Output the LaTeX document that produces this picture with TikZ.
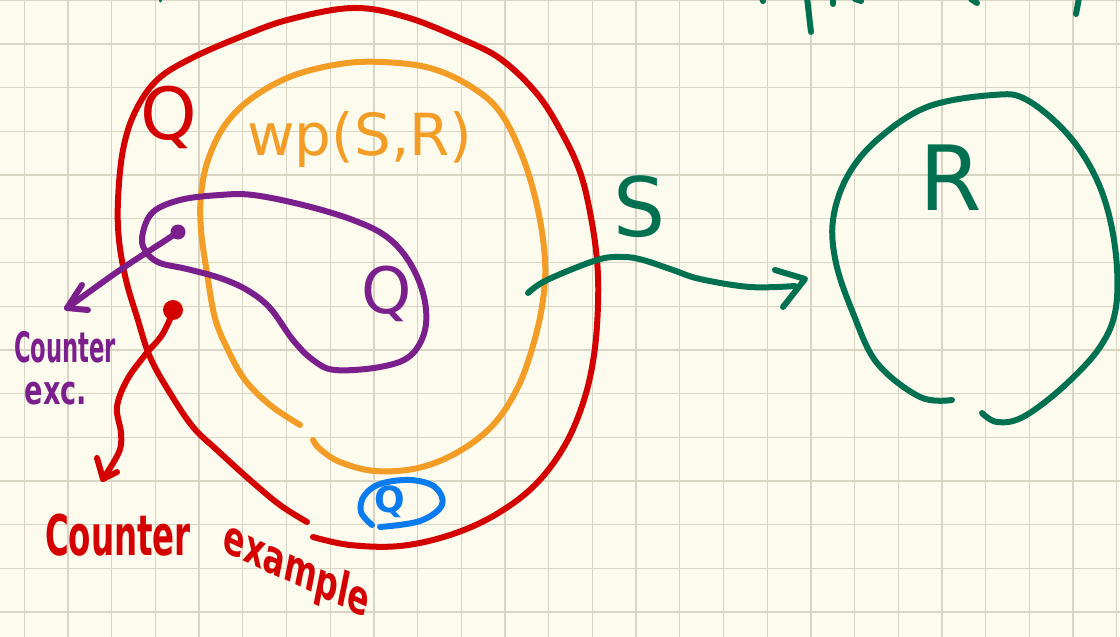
\documentclass[tikz,border=0pt]{standalone}
\usepackage{fontspec}
\setmainfont{DejaVu Sans}
\definecolor{paper}{HTML}{FDFBEE}
\definecolor{gridc}{HTML}{D9D5C5}
\definecolor{qred}{HTML}{D40000}
\definecolor{qorange}{HTML}{F39C26}
\definecolor{qpurple}{HTML}{7B1F8C}
\definecolor{qgreen}{HTML}{007150}
\definecolor{qblue}{HTML}{0A7CF0}
\newcommand{\fsz}[1]{\fontsize{#1}{#1}\selectfont}
\begin{document}
\begin{tikzpicture}[x=1pt,y=-1pt,line cap=round,line join=round,
  ink/.style={line width=6pt},
  lbl/.style={inner sep=0pt,outer sep=0pt}]
\useasboundingbox (0,0) rectangle (1120,637);
\fill[paper] (0,0) rectangle (1120,637);
\foreach \i in {0,...,25} \draw[gridc,line width=1.3pt] (24.3+43.7*\i,0) -- (24.3+43.7*\i,637);
\foreach \j in {0,...,14} \draw[gridc,line width=1.3pt] (0,0.3+43.7*\j) -- (1120,0.3+43.7*\j);

% top green fragments
\draw[qgreen,ink] (807,-2) -- (811,32);
\draw[qgreen,ink] (762,-3) -- (763,1);
\draw[qgreen,ink] (833,-2) -- (833,4);
\draw[qgreen,ink] (855,-1) -- (861,1);
\draw[qgreen,ink] (971,-1) -- (977,3);
\draw[qgreen,ink] (1079,-2) -- (1076,14);
\draw[qgreen,line width=3pt] (160,-2) -- (160,1);

% red outer loop
\draw[qred,ink] plot[smooth,tension=0.6] coordinates {(307,522) (280,505) (250,480) (217,450) (193,427) (170,393) (150,357) (137,317) (126,280) (119,240) (118,200) (123,150) (135,112) (157,80) (192,58) (245,35) (291,19) (353,8) (406,17) (464,40) (502,60) (538,95) (563,135) (580,172) (590,212) (597,260) (598,305) (594,355) (584,400) (565,445) (535,485) (495,515) (450,535) (400,546) (350,545) (313,537)};

% orange loop
\draw[qorange,ink] plot[smooth,tension=0.6] coordinates {(300,425) (270,405) (245,380) (228,350) (215,318) (207,273) (201,230) (201,195) (208,160) (225,125) (252,98) (292,76) (340,64) (382,62) (430,68) (470,86) (500,112) (523,158) (538,210) (545,260) (543,300) (534,342) (518,387) (493,425) (458,452) (418,468) (375,471) (340,462) (320,449) (313,440)};

% purple blob
\draw[qpurple,ink] plot[smooth cycle,tension=0.6] coordinates {(142,238) (152,213) (180,200) (220,195) (253,195) (303,205) (353,220) (387,237) (410,263) (424,297) (425,330) (410,356) (380,367) (335,370) (313,360) (293,340) (270,308) (247,290) (220,278) (187,269) (160,263) (147,253)};

% purple counter-example arrow
\fill[qpurple] (178,232) circle (7.5pt);
\coordinate (ptip) at (67,308);
\draw[qpurple,ink] plot[smooth,tension=0.6] coordinates {(178,232) (163,242) (120,270) (ptip)};
\draw[qpurple,ink] (82,285) -- (ptip) -- (88,310);

% red counter-example arrow
\fill[qred] (173,310) circle (10pt);
\coordinate (rtip) at (103,479);
\draw[qred,ink] plot[smooth,tension=0.6] coordinates {(173,312) (162,335) (145,355) (127,380) (117,407) (121,433) (119,452) (rtip)};
\draw[qred,ink] (97,458) -- (rtip) -- (117,472);

% green S arrow
\coordinate (gtip) at (805,279);
\draw[qgreen,ink] plot[smooth,tension=0.6] coordinates {(528,293) (547,280) (597,260) (623,257) (643,260) (673,270) (700,279) (750,287) (795,286)};
\draw[qgreen,ink] (775,270) -- (gtip) -- (783,307);

% green R loop
\draw[qgreen,ink] plot[smooth,tension=0.6] coordinates {(952,400) (920,397) (877,363) (853,313) (836,263) (833,220) (847,177) (877,140) (927,107) (993,95) (1027,100) (1070,137) (1100,187) (1115,247) (1116,307) (1100,347) (1063,387) (1023,417) (997,422) (982,413)};

% blue circled Q
\draw[qblue,ink] plot[smooth,tension=0.6] coordinates {(380,527) (420,521) (442,505) (435,487) (410,480) (380,484) (364,496) (361,512) (372,525)};
\node[lbl,qblue,font=\bfseries\fsz{36}] (qb) at (390,502) {Q};

% labels
\node[lbl,qred,font=\fsz{72}] (qr) at (169,117) {Q};
\node[lbl,qorange,font=\fsz{58},anchor=base] (wp) at (360,155) {wp(S,R)};
\node[lbl,qpurple,font=\fsz{64}] (qp) at (387,294) {Q};
\node[lbl,qgreen,font=\fsz{82}] (sl) at (640,207) {S};
\node[lbl,qgreen,font=\fsz{90}] (rl) at (951,178) {R};
\node[lbl,qpurple,font=\bfseries\fsz{42},xscale=0.54,anchor=base] (ce1) at (65,362) {Counter};
\node[lbl,qpurple,font=\bfseries\fsz{40},xscale=0.68,anchor=base] (ce2) at (56,404) {exc.};
\node[lbl,qred,font=\bfseries\fsz{56},xscale=0.58,anchor=base] (ce3) at (118,555) {Counter};
\node[lbl,qred,font=\bfseries\fsz{48},xscale=0.66,rotate=-17,anchor=base] (ce4) at (294,584) {example};
\end{tikzpicture}
\end{document}
